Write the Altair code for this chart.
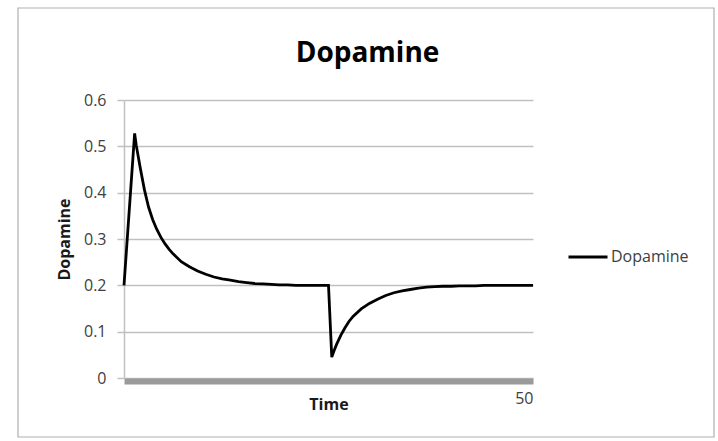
import altair as alt
import pandas as pd

time = [0, 1.3, 1.5, 2, 2.5, 3, 3.5, 4, 4.5, 5, 5.5, 6, 7, 8, 9, 10, 11, 12, 13, 14, 15,
        16, 17, 18, 19, 20, 21, 22, 23, 24, 25, 25.4, 25.7, 26, 26.5, 27, 27.5, 28, 29,
        30, 31, 32, 33, 34, 35, 36, 37, 38, 39, 40, 41, 42, 43, 44, 45, 46, 47, 48, 49, 50]
dopamine = [0.200, 0.528, 0.502, 0.452, 0.406, 0.369, 0.342, 0.321, 0.304, 0.290, 0.278,
            0.268, 0.251, 0.240, 0.231, 0.224, 0.218, 0.214, 0.211, 0.208, 0.206,
            0.204, 0.203, 0.202, 0.201, 0.201, 0.200, 0.200, 0.200, 0.200, 0.200,
            0.045, 0.060, 0.073, 0.092, 0.108, 0.122, 0.133, 0.149,
            0.161, 0.170, 0.178, 0.184, 0.188, 0.191, 0.194, 0.196, 0.197, 0.198, 0.198,
            0.199, 0.199, 0.199, 0.200, 0.200, 0.200, 0.200, 0.200, 0.200, 0.200]
series_name = "Dopamine"
chart_title = "Dopamine"
y_ticks = [0, 0.1, 0.2, 0.3, 0.4, 0.5, 0.6]
x_ticks = [50]

df = pd.DataFrame({"Time": time, "Dopamine": dopamine, "series": [series_name] * len(time)})

FONT = "Open Sans"
TXT = "#404040"

line = alt.Chart(df).mark_line(strokeWidth=2.8, clip=False).encode(
    x=alt.X("Time:Q",
            scale=alt.Scale(domain=[0, 50], nice=False, zero=False),
            axis=alt.Axis(values=x_ticks, grid=False, ticks=False,
                          domainColor="#9a9a9a", domainWidth=6, offset=3,
                          labelAlign="right", labelBaseline="alphabetic", labelPadding=22,
                          labelFont=FONT, labelFontSize=16, labelColor=TXT,
                          title="Time", titleFont=FONT, titleFontSize=16, titleFontWeight="bold",
                          titleColor="#1a1a1a", titleBaseline="alphabetic", titleY=28)),
    y=alt.Y("Dopamine:Q",
            scale=alt.Scale(domain=[0, 0.6], nice=False),
            axis=alt.Axis(values=y_ticks, format=".1~f", grid=True, gridColor="#c0c0c0", gridWidth=1.5,
                          ticks=True, tickSize=7, tickColor="#c0c0c0", tickWidth=1.5,
                          domainColor="#c0c0c0", domainWidth=1.5,
                          labelPadding=11, labelFont=FONT, labelFontSize=16, labelColor=TXT,
                          title="Dopamine", titleFont=FONT, titleFontSize=16, titleFontWeight="bold",
                          titleColor="#1a1a1a", titleX=-52, titleY=139, titleBaseline="bottom")),
    color=alt.Color("series:N", scale=alt.Scale(range=["#000000"]),
                    legend=alt.Legend(title=None, orient="none", legendX=443, legendY=136,
                                      symbolType="stroke", symbolSize=1521, symbolStrokeWidth=3,
                                      labelFont=FONT, labelFontSize=16, labelColor=TXT,
                                      labelOffset=2, padding=0)),
)

one = pd.DataFrame({"t": [chart_title]})

frame = alt.Chart(one).mark_rect(
    fill=None, stroke="#b0b0b0", strokeWidth=1.2, clip=False
).encode(
    x=alt.value(-106), x2=alt.value(590), y=alt.value(-92), y2=alt.value(337)
)

title = alt.Chart(one).mark_text(
    font=FONT, fontSize=28, fontWeight="bold", color="#000000",
    align="center", baseline="alphabetic", clip=False
).encode(
    text="t:N", x=alt.value(243.5), y=alt.value(-38)
)

chart = alt.layer(frame, line, title).properties(
    width=409, height=278,
    autosize=alt.AutoSizeParams(type="none"),
    padding={"left": 124, "top": 100, "right": 185, "bottom": 63},
    background="white",
).configure_view(stroke=None)

chart.save("out.html", embed_options={"renderer": "svg", "actions": False})
